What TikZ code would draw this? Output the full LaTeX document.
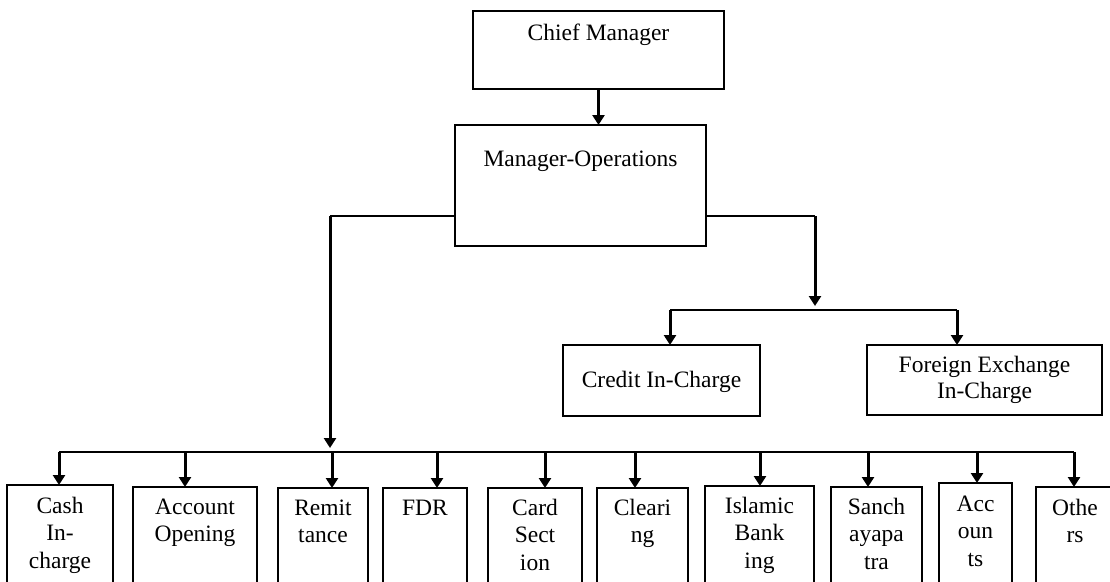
\documentclass[tikz,border=0pt]{standalone}
\usepackage{fontspec}
\setmainfont{Liberation Serif}
\usetikzlibrary{arrows.meta}
\newcommand{\mlines}[1]{\begin{tabular}[t]{@{}c@{}}#1\end{tabular}}
\begin{document}
\begin{tikzpicture}[x=1pt,y=-1pt,
  box/.style={draw, line width=1.6pt, inner sep=0pt, outer sep=0pt},
  txt/.style={anchor=base, inner sep=0pt, font=\fontsize{23.5}{27.5}\selectfont},
  lnk/.style={line width=1.6pt},
  arr/.style={line width=3pt, -{Triangle[length=10pt,width=12pt]}},
]
\useasboundingbox[fill=white] (0,0) rectangle (1110,581);
\clip (0,0) rectangle (1110,581);

% upper boxes
\node[box, minimum width=251pt, minimum height=78pt]  (chief)   at (598.5,50)   {};
\node[box, minimum width=251pt, minimum height=121pt] (ops)     at (580.5,185.5) {};
\node[box, minimum width=197pt, minimum height=71pt]  (credit)  at (661.5,380.5) {};
\node[box, minimum width=235pt, minimum height=70pt]  (foreign) at (984.5,380)   {};

\node[txt] (tchief)   at (598.5,40)  {Chief Manager};
\node[txt] (tops)     at (580.5,166) {Manager-Operations};
\node[txt] (tcredit)  at (661.5,387) {Credit In-Charge};
\node[txt] (tforeign) at (984.5,372) {\fontsize{23.5}{26}\selectfont\mlines{Foreign Exchange\\In-Charge}};

% bottom boxes
\node[box, minimum width=106pt, minimum height=155pt] (cash)   at (60,562.5)    {};
\node[box, minimum width=124pt, minimum height=153pt] (acct)   at (195,563.5)   {};
\node[box, minimum width=90pt,  minimum height=152pt] (remit)  at (323,564)     {};
\node[box, minimum width=84pt,  minimum height=152pt] (fdr)    at (425,564)     {};
\node[box, minimum width=94pt,  minimum height=152pt] (card)   at (535,564)     {};
\node[box, minimum width=91pt,  minimum height=152pt] (clear)  at (642.5,564)   {};
\node[box, minimum width=109pt, minimum height=154pt] (islam)  at (759.5,563)   {};
\node[box, minimum width=91pt,  minimum height=153pt] (sanch)  at (876.5,563.5) {};
\node[box, minimum width=73pt,  minimum height=157pt] (accts)  at (975.5,561.5) {};
\node[box, minimum width=78pt,  minimum height=153pt] (others) at (1075,563.5)  {};

\node[txt] (tcash)   at (60,513)    {\mlines{Cash\\In-\\charge}};
\node[txt] (tacct)   at (195,514)   {\mlines{Account\\Opening}};
\node[txt] (tremit)  at (323,515)   {\mlines{Remit\\tance}};
\node[txt] (tfdr)    at (425,515)   {FDR};
\node[txt] (tcard)   at (535,515)   {\mlines{Card\\Sect\\ion}};
\node[txt] (tclear)  at (642.5,515) {\mlines{Cleari\\ng}};
\node[txt] (tislam)  at (759.5,513) {\mlines{Islamic\\Bank\\ing}};
\node[txt] (tsanch)  at (876.5,514) {\mlines{Sanch\\ayapa\\tra}};
\node[txt] (taccts)  at (975.5,511) {\mlines{Acc\\oun\\ts}};
\node[txt] (tothers) at (1075,515)  {\mlines{Othe\\rs}};

% connectors
\coordinate (yl) at (0,216);
\coordinate (lc) at (330,216);
\coordinate (rc) at (815,216);
\coordinate (ltip) at (330,448);
\coordinate (rtip) at (815,306);
\coordinate (cb1) at (670,310);
\coordinate (cb2) at (957,310);

\draw[arr] (chief.south) -- (chief.south |- ops.north);

\draw[lnk] (ops.west |- yl) -- (lc);
\draw[arr] (lc) -- (ltip);
\draw[lnk] (ops.east |- yl) -- (rc);
\draw[arr] (rc) -- (rtip);

\draw[lnk] (cb1) -- (cb2);
\draw[arr] (cb1) -- (cb1 |- credit.north);
\draw[arr] (cb2) -- (cb2 |- foreign.north);

\coordinate (d1) at (59,452);
\coordinate (d2) at (185,452);
\coordinate (d3) at (332,452);
\coordinate (d4) at (437,452);
\coordinate (d5) at (545,452);
\coordinate (d6) at (635,452);
\coordinate (d7) at (760,452);
\coordinate (d8) at (868,452);
\coordinate (d9) at (977,452);
\coordinate (d10) at (1074,452);

\draw[lnk] (d1) -- (d10);
\draw[arr] (d1) -- (d1 |- cash.north);
\draw[arr] (d2) -- (d2 |- acct.north);
\draw[arr] (d3) -- (d3 |- remit.north);
\draw[arr] (d4) -- (d4 |- fdr.north);
\draw[arr] (d5) -- (d5 |- card.north);
\draw[arr] (d6) -- (d6 |- clear.north);
\draw[arr] (d7) -- (d7 |- islam.north);
\draw[arr] (d8) -- (d8 |- sanch.north);
\draw[arr] (d9) -- (d9 |- accts.north);
\draw[arr] (d10) -- (d10 |- others.north);
\end{tikzpicture}
\end{document}
